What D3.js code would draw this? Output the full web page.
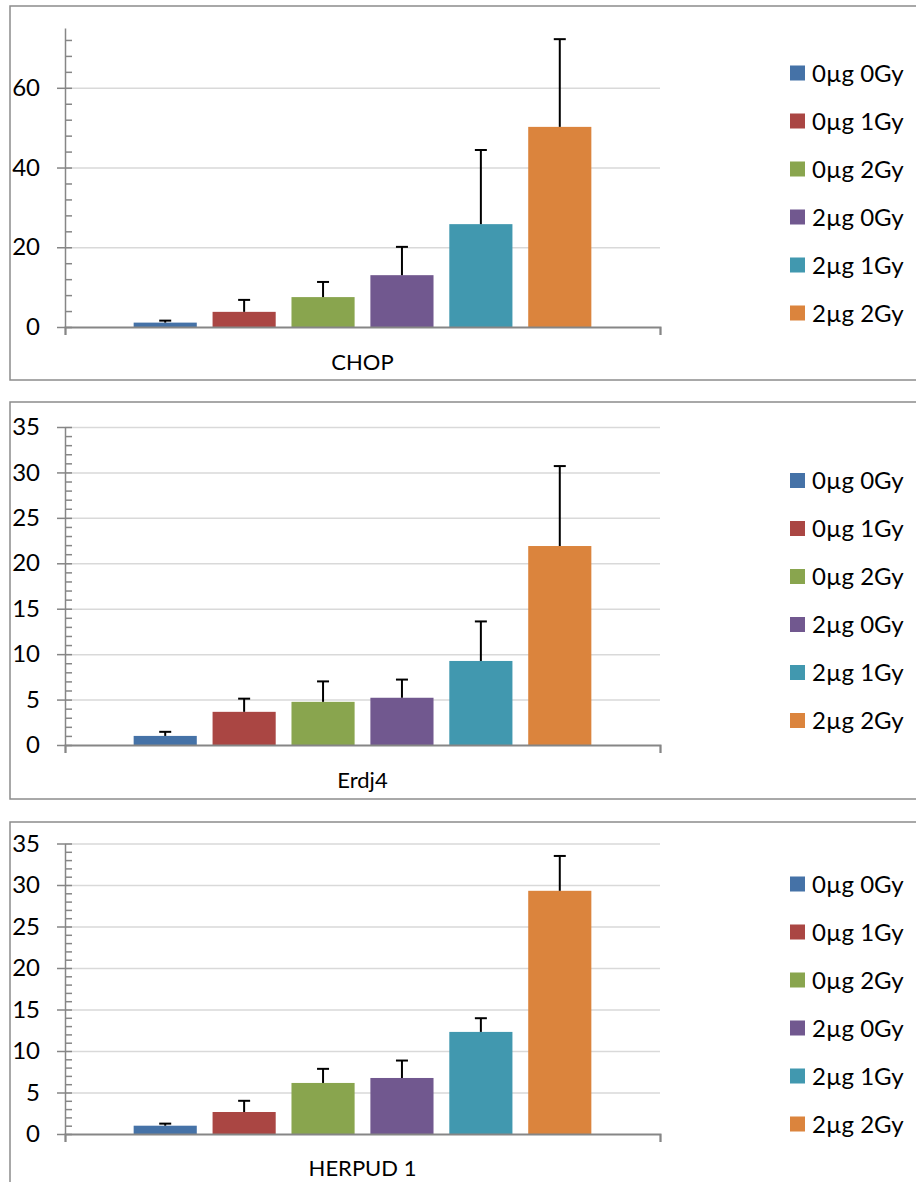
<!DOCTYPE html>
<html>
<head>
<meta charset="utf-8">
<script src="https://cdn.jsdelivr.net/npm/d3@7"></script>
<style>
  html, body { margin: 0; padding: 0; background: #fff; }
  svg { display: block; font-family: Lato, "Open Sans", sans-serif; }
</style>
</head>
<body>
<svg id="chart" width="916" height="1182"></svg>
<script>
// series (legend entries)
const series = ["0µg 0Gy", "0µg 1Gy", "0µg 2Gy", "2µg 0Gy", "2µg 1Gy", "2µg 2Gy"];
const colors = ["#4572A7", "#AA4643", "#89A54E", "#71588F", "#4198AF", "#DB843D"];

// gene names (one panel each)
const genes = ["CHOP", "Erdj4", "HERPUD 1"];

// means and upper error bars
const chopValues = [1.1, 3.8, 7.5, 13.0, 25.8, 50.2];
const chopErrors = [0.5, 3.0, 3.8, 7.1, 18.6, 22.0];
const erdj4Values = [1.0, 3.65, 4.75, 5.2, 9.25, 21.9];
const erdj4Errors = [0.45, 1.45, 2.25, 2.0, 4.35, 8.8];
const herpudValues = [1.0, 2.65, 6.15, 6.75, 12.3, 29.3];
const herpudErrors = [0.25, 1.35, 1.7, 2.1, 1.65, 4.2];

// axis ticks
const chopTicks = [0, 20, 40, 60];
const chopMinor = d3.range(0, 76, 4);
const chopMax = 75;
const smallTicks = [0, 5, 10, 15, 20, 25, 30, 35];
const smallMinor = d3.range(0, 36, 1);
const smallMax = 35;

const panelData = [
    { title: genes[0], values: chopValues, errors: chopErrors, ticks: chopTicks, minor: chopMinor, max: chopMax },
    { title: genes[1], values: erdj4Values, errors: erdj4Errors, ticks: smallTicks, minor: smallMinor, max: smallMax },
    { title: genes[2], values: herpudValues, errors: herpudErrors, ticks: smallTicks, minor: smallMinor, max: smallMax }
];

// layout of each panel in pixels
const layout = [
    { top: 6, bottom: 380, yTop: 28, yZero: 327, titleY: 370 },
    { top: 402, bottom: 799, yTop: 427, yZero: 745, titleY: 788 },
    { top: 822, bottom: 1186, yTop: 843.5, yZero: 1134, titleY: 1176 }
];

const plotLeft = 65, plotRight = 660;
const axisColor = "#868686";

const svg = d3.select("#chart");

const x = d3.scaleBand()
    .domain(series)
    .range([plotLeft, plotRight])
    .paddingInner(0.2)
    .paddingOuter(0.87);

panelData.forEach((p, i) => {
    const L = layout[i];
    const g = svg.append("g");

    // panel border
    g.append("rect")
        .attr("x", 10).attr("y", L.top)
        .attr("width", 930).attr("height", L.bottom - L.top)
        .attr("fill", "#fff")
        .attr("stroke", "#8c8c8c")
        .attr("stroke-width", 1.5);

    const y = d3.scaleLinear()
        .domain([0, p.max])
        .range([L.yZero, L.yTop]);

    // gridlines
    g.append("g")
        .attr("transform", `translate(${plotLeft},0)`)
        .call(d3.axisLeft(y).tickValues(p.ticks.filter(t => t > 0)).tickSize(-(plotRight - plotLeft)).tickFormat(""))
        .call(a => a.select(".domain").remove())
        .call(a => a.selectAll("line").attr("stroke", "#d9d9d9").attr("stroke-width", 1.5));

    // bars
    g.append("g")
        .selectAll("rect")
        .data(p.values)
        .join("rect")
        .attr("x", (d, j) => x(series[j]))
        .attr("width", x.bandwidth())
        .attr("y", d => y(d))
        .attr("height", d => y(0) - y(d))
        .attr("fill", (d, j) => colors[j]);

    // error bars (upper only)
    const err = g.append("g")
        .attr("stroke", "#000")
        .attr("stroke-width", 2)
        .selectAll("g")
        .data(p.values)
        .join("g");
    err.append("line")
        .attr("x1", (d, j) => x(series[j]) + x.bandwidth() / 2)
        .attr("x2", (d, j) => x(series[j]) + x.bandwidth() / 2)
        .attr("y1", d => y(d))
        .attr("y2", (d, j) => y(d + p.errors[j]));
    err.append("line")
        .attr("x1", (d, j) => x(series[j]) + x.bandwidth() / 2 - 6)
        .attr("x2", (d, j) => x(series[j]) + x.bandwidth() / 2 + 6)
        .attr("y1", (d, j) => y(d + p.errors[j]))
        .attr("y2", (d, j) => y(d + p.errors[j]));

    // minor ticks (inside)
    g.append("g")
        .attr("transform", `translate(${plotLeft},0)`)
        .call(d3.axisLeft(y).tickValues(p.minor).tickSize(-7).tickFormat(""))
        .call(a => a.select(".domain").remove())
        .call(a => a.selectAll("line").attr("stroke", axisColor).attr("stroke-width", 1.5));

    // major ticks and labels
    g.append("g")
        .attr("transform", `translate(${plotLeft},0)`)
        .call(d3.axisLeft(y).tickValues(p.ticks).tickSizeInner(8).tickSizeOuter(0).tickPadding(17))
        .call(a => a.select(".domain").attr("stroke", axisColor).attr("stroke-width", 1.5))
        .call(a => a.selectAll("line").attr("stroke", axisColor).attr("stroke-width", 1.5))
        .call(a => a.selectAll("text").attr("fill", "#000").attr("font-size", 24)
            .attr("font-family", "Lato, sans-serif"));

    // category axis with end ticks
    const xEdge = d3.scaleLinear().domain([0, 1]).range([plotLeft, plotRight]);
    g.append("g")
        .attr("transform", `translate(0,${L.yZero})`)
        .call(d3.axisBottom(xEdge).tickValues([0, 1]).tickSize(8).tickFormat(""))
        .call(a => a.select(".domain").attr("stroke", axisColor).attr("stroke-width", 2))
        .call(a => a.selectAll("line").attr("stroke", axisColor).attr("stroke-width", 1.5));

    // gene title
    g.append("text")
        .attr("x", (plotLeft + plotRight) / 2)
        .attr("y", L.titleY)
        .attr("text-anchor", "middle")
        .attr("font-size", 22)
        .text(p.title);

    // legend
    const mid = (L.top + L.bottom) / 2;
    const rowGap = 48;
    const legend = g.append("g")
        .selectAll("g")
        .data(series)
        .join("g")
        .attr("transform", (d, j) => `translate(790,${mid + (j - 2.5) * rowGap})`);
    legend.append("rect")
        .attr("x", 0).attr("y", -7.5)
        .attr("width", 15).attr("height", 15)
        .attr("fill", (d, j) => colors[j]);
    legend.append("text")
        .attr("x", 22)
        .attr("dy", "0.36em")
        .attr("font-size", 24)
        .text(d => d);
});
</script>
</body>
</html>
